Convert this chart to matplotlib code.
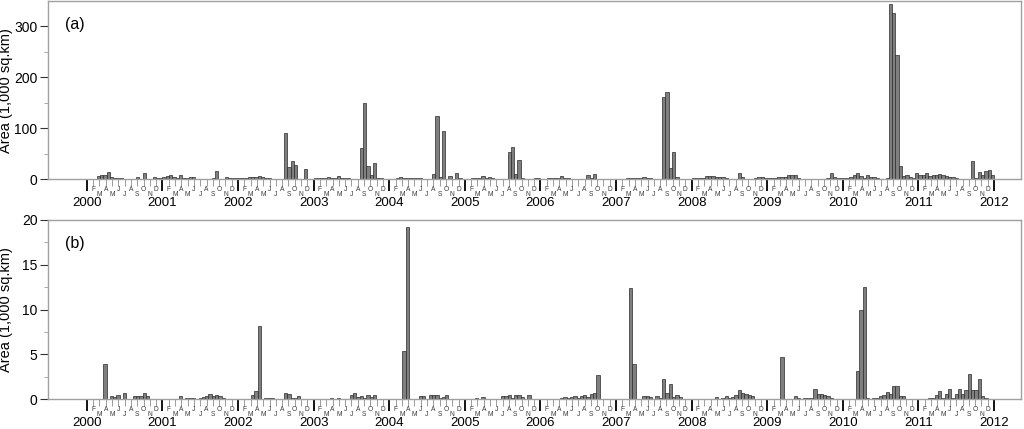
import numpy as np
from matplotlib import pyplot as plt

plt.rcParams['font.family'] = ['Liberation Sans', 'DejaVu Sans']

years = list(range(2000, 2013))
month_letters = ['F', 'M', 'A', 'M', 'J', 'J', 'A', 'S', 'O', 'N', 'D']
n_per_year = 23  # 16-day composites per year

# (a) area, 1,000 sq.km, 23 composites per year, 2000..2011
area_a = [
    0, 0, 0, 7, 8, 8, 14, 5, 3, 2.5, 2, 1.5, 1, 1, 1, 4, 1, 13, 1, 1, 5, 2, 2,
    4, 7, 8.5, 5, 3, 9, 3, 3, 5, 5, 1, 0.5, 0.5, 1, 1, 3, 16, 1, 1, 5, 3, 2, 2,
    2, 2, 2, 4, 4, 5, 7, 5, 3, 2, 1, 1, 0.5, 0.5, 90, 25, 35, 29, 1, 1, 21, 1, 0.5,
    2, 3, 3, 3, 4, 3, 2, 6, 3, 3, 2, 1, 1, 0.5, 61, 150, 27, 8, 32, 3, 2, 1, 1,
    1, 1, 2, 4, 3, 2, 2, 3, 3, 2, 1, 0.5, 1, 10, 124, 5, 94, 1, 7, 1, 12, 3, 1,
    1, 1, 2, 2, 2, 6, 2, 5, 2, 1, 1, 0.5, 0.5, 54, 63, 11, 37, 2, 1, 0.5, 1, 2, 3,
    1, 1, 2, 2, 2, 2, 6, 3, 2, 1, 1, 0.5, 1, 1, 9, 3, 11, 1, 0.5, 0.5, 0.5, 1, 1,
    1, 1, 1.5, 2, 2, 2, 2.5, 3, 5, 3, 2, 1, 1, 1, 161, 172, 22, 54, 4, 1, 1, 1, 0.5,
    2, 3, 2, 3, 6, 7, 7, 4, 4, 4, 2, 1, 0.5, 1, 13, 4, 1.5, 1, 1, 3, 4, 4, 3,
    3, 3, 3, 4, 5, 5, 9, 8, 9, 3, 1, 1, 0.5, 0.5, 0.5, 0.5, 0.5, 1, 3, 13, 5, 2, 2,
    2, 3, 4, 8, 12, 7, 3, 8, 5, 5, 2, 1, 1, 2, 344, 327, 245, 26, 7, 8, 5, 2, 13,
    8, 8, 13, 7, 8, 8, 10, 8, 7, 5, 4, 3, 1, 0.5, 0.5, 0.5, 36, 2, 14, 9, 16, 18, 9,
]

# (b) area, 1,000 sq.km
area_b = [
    0, 0, 0, 0, 0, 3.9, 0.02, 0.3, 0.2, 0.45, 0.05, 0.63, 0.05, 0.05, 0.33, 0.33, 0.33, 0.7, 0.3, 0.05, 0.02, 0.02, 0.02,
    0, 0, 0.02, 0.02, 0.05, 0.37, 0.05, 0.15, 0.15, 0.1, 0.05, 0.1, 0.2, 0.3, 0.6, 0.35, 0.5, 0.3, 0.1, 0.05, 0.02, 0.02, 0.02,
    0, 0, 0.02, 0.05, 0.5, 0.95, 8.2, 0.05, 0.1, 0.15, 0.1, 0.05, 0.02, 0.05, 0.67, 0.6, 0.1, 0.1, 0.3, 0.05, 0.05, 0.05, 0.02,
    0, 0, 0.02, 0.02, 0.05, 0.1, 0.05, 0.1, 0.05, 0.05, 0.05, 0.5, 0.67, 0.25, 0.3, 0.1, 0.5, 0.25, 0.4, 0.05, 0.02, 0.02, 0.02,
    0.02, 0.02, 0.05, 0.05, 5.4, 19.2, 0.02, 0.02, 0.05, 0.33, 0.33, 0.05, 0.4, 0.4, 0.5, 0.1, 0.28, 0.5, 0.05, 0.05, 0.02, 0.02, 0.02,
    0.02, 0.02, 0.05, 0.1, 0.05, 0.25, 0.02, 0.02, 0.05, 0.05, 0.05, 0.33, 0.3, 0.4, 0.15, 0.5, 0.4, 0.25, 0.05, 0.4, 0.05, 0.02, 0.02,
    0.02, 0.02, 0.02, 0.02, 0.05, 0.05, 0.1, 0.2, 0.15, 0.25, 0.3, 0.15, 0.3, 0.4, 0.2, 0.55, 0.63, 2.7, 0.05, 0.02, 0.02, 0.02, 0.02,
    0.02, 0.02, 0.05, 0.05, 12.4, 3.9, 0.05, 0.05, 0.3, 0.3, 0.2, 0.05, 0.3, 0.1, 2.27, 0.63, 1.64, 0.2, 0.5, 0.2, 0.05, 0.02, 0.02,
    0.02, 0.02, 0.02, 0.02, 0.02, 0.05, 0.05, 0.2, 0.05, 0.15, 0.3, 0.1, 0.2, 0.4, 1.0, 0.67, 0.6, 0.45, 0.3, 0.05, 0.02, 0.02, 0.02,
    0.02, 0.02, 0.02, 0.05, 4.7, 0.02, 0.05, 0.05, 0.3, 0.1, 0.05, 0.1, 0.15, 0.15, 1.08, 0.6, 0.55, 0.5, 0.35, 0.1, 0.05, 0.02, 0.02,
    0.02, 0.02, 0.02, 0.05, 3.1, 10.0, 12.5, 0.1, 0.05, 0.1, 0.15, 0.3, 0.4, 0.8, 0.55, 1.5, 1.45, 0.3, 0.3, 0.05, 0.05, 0.02, 0.02,
    0.02, 0.02, 0.05, 0.1, 0.1, 0.5, 0.9, 0.1, 0.55, 1.08, 0.1, 0.55, 1.15, 0.55, 1.0, 2.75, 1.0, 1.0, 2.27, 0.3, 0.1, 0.05, 0.02,
]

yticks_a = [0, 100, 200, 300]
yticks_b = [0, 5, 10, 15, 20]


def plot_panel(ax, values, ymax, yticks, minor_step, label):
    x = np.arange(len(values))
    ax.bar(x, values, width=1.0, align='edge', color='#7f7f7f',
           edgecolor='#2b2b2b', linewidth=0.5, zorder=2)
    ax.set_xlim(-11.8, 284.2)
    ax.set_ylim(0, ymax)

    for s in ax.spines.values():
        s.set_color('#a0a0a0')
        s.set_linewidth(1.0)

    year_ticks = [n_per_year * i for i in range(len(years))]
    month_ticks = [n_per_year * (i + m / 12) for i in range(len(years) - 1) for m in range(1, 12)]
    ax.set_xticks(year_ticks)
    ax.set_xticklabels([])
    ax.set_xticks(month_ticks, minor=True)
    ax.tick_params(axis='x', which='major', length=8.5, width=1.3, color='black')
    ax.tick_params(axis='x', which='minor', length=5, width=0.7, color='#9a9a9a')

    for t, yr in zip(year_ticks, years):
        ax.annotate(str(yr), (t, 0), xycoords=('data', 'axes fraction'), xytext=(0, -17.2),
                    textcoords='offset points', ha='center', va='center', fontsize=9.5)
    for i, t in enumerate(month_ticks):
        m = i % 11
        dy = -7.2 if m % 2 == 0 else -11.0
        ax.annotate(month_letters[m], (t, 0), xycoords=('data', 'axes fraction'), xytext=(0, dy),
                    textcoords='offset points', ha='center', va='center', fontsize=4.8, color='#3a3a3a')

    ax.set_yticks(yticks)
    ax.set_yticks(np.arange(minor_step, ymax, minor_step * 2), minor=True)
    ax.tick_params(axis='y', which='major', length=5.5, width=0.8, color='#333333', labelsize=10, pad=2)
    ax.tick_params(axis='y', which='minor', length=3, width=0.7, color='#aaaaaa')
    ax.set_ylabel('Area (1,000 sq.km)', fontsize=10.5)
    ax.yaxis.set_label_coords(-0.036, 0.5)
    ax.text(0.0278, 0.87, label, transform=ax.transAxes, ha='center', va='center', fontsize=11.5)


fig = plt.figure(figsize=(10.24, 4.29), dpi=100)
ax_a = fig.add_axes([0.0469, 0.582, 0.9502, 0.4156])
ax_b = fig.add_axes([0.0469, 0.0699, 0.9502, 0.4173])
plot_panel(ax_a, area_a, 350, yticks_a, 50, '(a)')
plot_panel(ax_b, area_b, 20, yticks_b, 2.5, '(b)')

fig.savefig('out.png', dpi=100)
